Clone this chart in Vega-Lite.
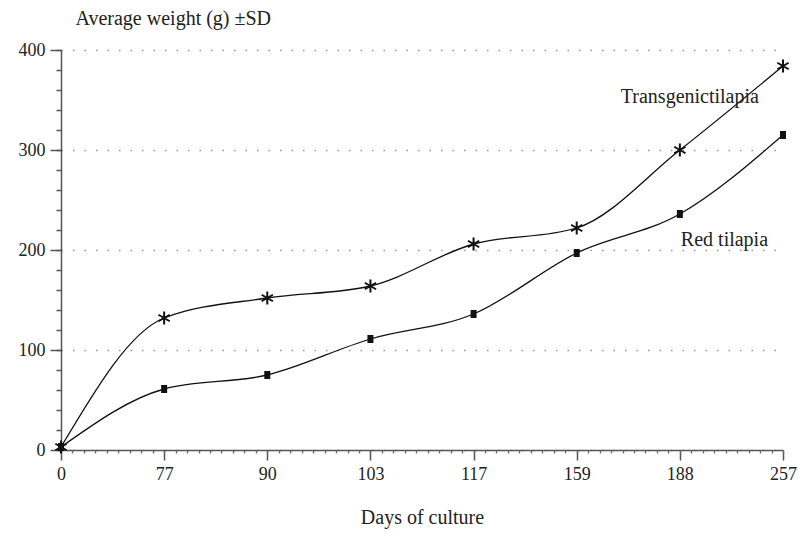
{
  "$schema": "https://vega.github.io/schema/vega-lite/v6.json",
  "width": 722,
  "height": 400,
  "autosize": {"type": "none"},
  "padding": {"left": 61, "top": 50, "right": 15, "bottom": 85},
  "background": "white",
  "config": {
    "view": {"stroke": null},
    "font": "Liberation Serif",
    "axis": {"labelFont": "Liberation Serif", "titleFont": "Liberation Serif", "labelFontSize": 18, "titleFontSize": 20, "labelColor": "#222", "titleColor": "#222", "titleFontWeight": "normal", "domainColor": "#555", "tickColor": "#555", "domainWidth": 1.5, "tickWidth": 1.5}
  },
  "datasets": {
    "series": [
      {"day": "0", "series": "Transgenic tilapia", "weight": 3},
      {"day": "77", "series": "Transgenic tilapia", "weight": 132},
      {"day": "90", "series": "Transgenic tilapia", "weight": 152},
      {"day": "103", "series": "Transgenic tilapia", "weight": 164},
      {"day": "117", "series": "Transgenic tilapia", "weight": 206},
      {"day": "159", "series": "Transgenic tilapia", "weight": 222},
      {"day": "188", "series": "Transgenic tilapia", "weight": 300},
      {"day": "257", "series": "Transgenic tilapia", "weight": 384},
      {"day": "0", "series": "Red tilapia", "weight": 3},
      {"day": "77", "series": "Red tilapia", "weight": 61},
      {"day": "90", "series": "Red tilapia", "weight": 75},
      {"day": "103", "series": "Red tilapia", "weight": 111},
      {"day": "117", "series": "Red tilapia", "weight": 136},
      {"day": "159", "series": "Red tilapia", "weight": 197},
      {"day": "188", "series": "Red tilapia", "weight": 236},
      {"day": "257", "series": "Red tilapia", "weight": 315}
    ],
    "labels": [
      {"day": "188", "weight": 347, "label": "Transgenictilapia"},
      {"day": "188", "weight": 204, "label": "Red tilapia"}
    ]
  },
  "data": {"name": "series"},
  "layer": [
    {
      "mark": {"type": "line", "interpolate": "monotone", "color": "#111", "strokeWidth": 1.3},
      "encoding": {
        "detail": {"field": "series"},
        "x": {"field": "day", "type": "ordinal", "scale": {"type": "point", "padding": 0, "domain": ["0", "77", "90", "103", "117", "159", "188", "257"]},
          "axis": {"title": "Days of culture", "labelAngle": 0, "tickSize": 10, "labelPadding": 5, "titleY": 73, "titleBaseline": "alphabetic", "domainColor": "#555"}},
        "y": {"field": "weight", "type": "quantitative", "scale": {"domain": [0, 400], "nice": false},
          "axis": {"values": [0, 100, 200, 300, 400], "tickSize": 11, "labelPadding": 5, "grid": true, "gridColor": "#999", "gridDash": [1.5, 10], "gridWidth": 1.5,
            "title": "Average weight (g) ±SD", "titleAngle": 0, "titleAlign": "left", "titleBaseline": "alphabetic", "titleX": 14, "titleY": -26}}
      }
    },
    {
      "transform": [{"filter": "datum.series === 'Transgenic tilapia'"}],
      "mark": {"type": "point", "shape": "M0,-1L0,1M-0.866,-0.5L0.866,0.5M-0.866,0.5L0.866,-0.5", "size": 169, "filled": false, "stroke": "#111", "strokeWidth": 2, "opacity": 1},
      "encoding": {
        "x": {"field": "day", "type": "ordinal", "scale": {"type": "point", "padding": 0, "domain": ["0", "77", "90", "103", "117", "159", "188", "257"]}, "axis": null},
        "y": {"field": "weight", "type": "quantitative", "scale": {"domain": [0, 400], "nice": false},
          "axis": {"orient": "left", "values": [0, 20, 40, 60, 80, 100, 120, 140, 160, 180, 200, 220, 240, 260, 280, 300, 320, 340, 360, 380, 400], "labels": false, "tickSize": 5, "domain": false, "grid": false, "title": null}}
      }
    },
    {
      "transform": [{"filter": "datum.series === 'Red tilapia'"}],
      "mark": {"type": "point", "shape": "M-0.75,-1L0.75,-1L0.75,1L-0.75,1Z", "size": 64, "filled": true, "fill": "#111", "opacity": 1},
      "encoding": {
        "x": {"field": "day", "type": "ordinal", "scale": {"type": "point", "padding": 0, "domain": ["0", "77", "90", "103", "117", "159", "188", "257"]}, "axis": null},
        "y": {"field": "weight", "type": "quantitative", "scale": {"domain": [0, 400], "nice": false}, "axis": null}
      }
    },
    {
      "data": {"name": "labels"},
      "transform": [{"filter": "datum.label === 'Transgenictilapia'"}],
      "mark": {"type": "text", "font": "Liberation Serif", "fontSize": 20, "color": "#222", "baseline": "alphabetic", "align": "center", "dx": 10},
      "encoding": {
        "x": {"field": "day", "type": "ordinal", "scale": {"type": "point", "padding": 0, "domain": ["0", "77", "90", "103", "117", "159", "188", "257"]}, "axis": null},
        "y": {"field": "weight", "type": "quantitative", "scale": {"domain": [0, 400], "nice": false}, "axis": null},
        "text": {"field": "label"}
      }
    },
    {
      "data": {"name": "labels"},
      "transform": [{"filter": "datum.label === 'Red tilapia'"}],
      "mark": {"type": "text", "font": "Liberation Serif", "fontSize": 20, "color": "#222", "baseline": "alphabetic", "align": "left", "dx": 1},
      "encoding": {
        "x": {"field": "day", "type": "ordinal", "scale": {"type": "point", "padding": 0, "domain": ["0", "77", "90", "103", "117", "159", "188", "257"]}, "axis": null},
        "y": {"field": "weight", "type": "quantitative", "scale": {"domain": [0, 400], "nice": false}, "axis": null},
        "text": {"field": "label"}
      }
    },
    {
      "mark": {"type": "point", "opacity": 0, "size": 0},
      "encoding": {
        "x": {"datum": 0, "type": "quantitative", "scale": {"domain": [0, 63], "nice": false, "zero": false},
          "axis": {"orient": "bottom", "values": [0,1,2,3,4,5,6,7,8,9,10,11,12,13,14,15,16,17,18,19,20,21,22,23,24,25,26,27,28,29,30,31,32,33,34,35,36,37,38,39,40,41,42,43,44,45,46,47,48,49,50,51,52,53,54,55,56,57,58,59,60,61,62,63], "labels": false, "tickSize": 3, "tickWidth": 1.3, "tickColor": "#666", "domain": false, "grid": false, "title": null}}
      }
    }
  ],
  "resolve": {"scale": {"x": "independent"}, "axis": {"y": "independent", "x": "independent"}}
}
